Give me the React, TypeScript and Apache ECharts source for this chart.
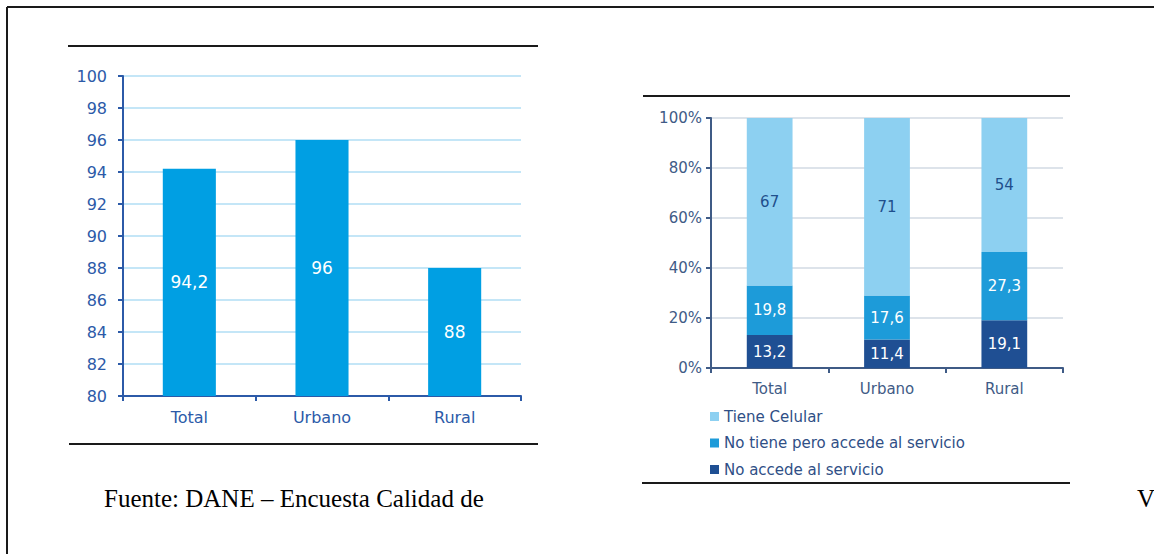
import React, { useEffect, useRef } from "react";
import * as echarts from "echarts";

// Left panel: single series by area
const areas = ["Total", "Urbano", "Rural"];
const coverage = [94.2, 96, 88];
const leftTicks = { min: 80, max: 100, interval: 2 };

// Right panel: stacked shares by area
const noAccede = [13.2, 11.4, 19.1];
const noTienePeroAccede = [19.8, 17.6, 27.3];
const tieneCelular = [67, 71, 54];
const stackNames = ["Tiene Celular", "No tiene pero accede al servicio", "No accede al servicio"];

const sourceText = "Fuente: DANE – Encuesta Calidad de";
const trailingText = "V";

const FONT = "DejaVu Sans";
const LEFT_AXIS = "#2c5aa8";
const RIGHT_AXIS = "#3f5b86";

const comma = (p: any) => String(p.value).replace(".", ",");

export default function App() {
  const ref = useRef<HTMLDivElement>(null);

  useEffect(() => {
    if (!ref.current) return;
    const chart = echarts.init(ref.current, undefined, { renderer: "svg" });

    const rule = (x1: number, y1: number, x2: number, y2: number, w = 2) => ({
      type: "line",
      shape: { x1, y1, x2, y2 },
      style: { stroke: "#1a1a1a", lineWidth: w },
      silent: true,
    });

    chart.setOption({
      animation: false,
      backgroundColor: "#ffffff",
      grid: [
        { left: 123, top: 76, width: 398, height: 320 },
        { left: 711, top: 118, width: 352, height: 250 },
      ],
      xAxis: [
        {
          type: "category",
          gridIndex: 0,
          data: areas,
          axisLine: { lineStyle: { color: LEFT_AXIS, width: 2 } },
          axisTick: { show: true, length: 5, lineStyle: { color: LEFT_AXIS, width: 2 } },
          axisLabel: { color: LEFT_AXIS, fontFamily: FONT, fontSize: 16, margin: 13 },
        },
        {
          type: "category",
          gridIndex: 1,
          data: areas,
          axisLine: { lineStyle: { color: RIGHT_AXIS, width: 2 } },
          axisTick: { show: true, length: 5, lineStyle: { color: RIGHT_AXIS, width: 2 } },
          axisLabel: { color: RIGHT_AXIS, fontFamily: FONT, fontSize: 15, margin: 13 },
        },
      ],
      yAxis: [
        {
          type: "value",
          gridIndex: 0,
          min: leftTicks.min,
          max: leftTicks.max,
          interval: leftTicks.interval,
          axisLine: { show: true, lineStyle: { color: LEFT_AXIS, width: 2 } },
          axisTick: { show: true, length: 5, lineStyle: { color: LEFT_AXIS, width: 2 } },
          axisLabel: { color: LEFT_AXIS, fontFamily: FONT, fontSize: 16, margin: 16 },
          splitLine: { lineStyle: { color: "#c4e6f7", width: 2 } },
        },
        {
          type: "value",
          gridIndex: 1,
          min: 0,
          max: 100,
          interval: 20,
          axisLine: { show: true, lineStyle: { color: RIGHT_AXIS, width: 2 } },
          axisTick: { show: true, length: 5, lineStyle: { color: RIGHT_AXIS, width: 2 } },
          axisLabel: {
            color: RIGHT_AXIS,
            fontFamily: FONT,
            fontSize: 15,
            margin: 9,
            formatter: "{value}%",
          },
          splitLine: { lineStyle: { color: "#dde3ea", width: 2 } },
        },
      ],
      legend: {
        data: stackNames,
        orient: "vertical",
        left: 705,
        top: 404,
        itemWidth: 9,
        itemHeight: 9,
        itemGap: 11.5,
        icon: "rect",
        textStyle: { color: "#2f4f86", fontFamily: FONT, fontSize: 15 },
      },
      series: [
        {
          type: "bar",
          xAxisIndex: 0,
          yAxisIndex: 0,
          data: coverage,
          barWidth: "40%",
          itemStyle: { color: "#009fe3" },
          label: {
            show: true,
            position: "inside",
            color: "#ffffff",
            fontFamily: FONT,
            fontSize: 17,
            formatter: comma,
          },
        },
        {
          name: stackNames[2],
          type: "bar",
          stack: "acceso",
          xAxisIndex: 1,
          yAxisIndex: 1,
          data: noAccede,
          barWidth: "39%",
          itemStyle: { color: "#1f4f93" },
          label: {
            show: true,
            position: "inside",
            color: "#ffffff",
            fontFamily: FONT,
            fontSize: 15,
            formatter: comma,
          },
        },
        {
          name: stackNames[1],
          type: "bar",
          stack: "acceso",
          xAxisIndex: 1,
          yAxisIndex: 1,
          data: noTienePeroAccede,
          barWidth: "39%",
          itemStyle: { color: "#1d9bd9" },
          label: {
            show: true,
            position: "inside",
            color: "#ffffff",
            fontFamily: FONT,
            fontSize: 15,
            formatter: comma,
          },
        },
        {
          name: stackNames[0],
          type: "bar",
          stack: "acceso",
          xAxisIndex: 1,
          yAxisIndex: 1,
          data: tieneCelular,
          barWidth: "39%",
          itemStyle: { color: "#8dd0f1" },
          label: {
            show: true,
            position: "inside",
            color: "#1f4f8c",
            fontFamily: FONT,
            fontSize: 15,
          },
        },
      ],
      graphic: [
        // page frame
        rule(7, 7, 1154, 7, 2),
        rule(7, 7, 7, 554, 2),
        // rules above and below each figure
        rule(68, 46, 538, 46, 2),
        rule(69, 444, 538, 444, 2),
        rule(643, 96, 1070, 96, 2),
        rule(642, 483, 1070, 483, 2),
        {
          type: "text",
          left: 104,
          top: 486,
          style: { text: sourceText, fill: "#000000", font: "25px 'Liberation Serif'" },
        },
        {
          type: "text",
          left: 1137,
          top: 486,
          style: { text: trailingText, fill: "#000000", font: "25px 'Liberation Serif'" },
        },
      ],
    });

    return () => chart.dispose();
  }, []);

  return (
    <div
      ref={ref}
      style={{ position: "absolute", left: 0, top: 0, width: 1154, height: 554 }}
    />
  );
}
